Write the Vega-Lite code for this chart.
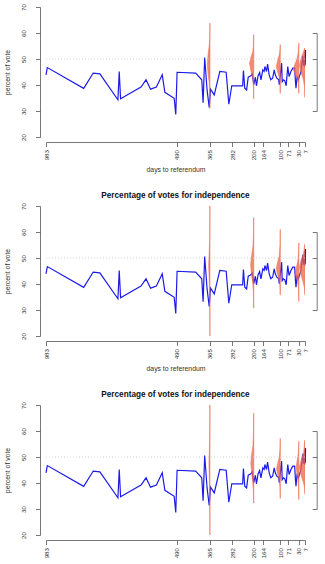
{
 "$schema": "https://vega.github.io/schema/vega-lite/v6.json",
 "padding": {"left": 4, "top": 3, "right": 2, "bottom": 0},
 "spacing": 17,
 "config": {
  "view": {"stroke": null},
  "font": "Liberation Sans",
  "axis": {"domainColor": "#555", "tickColor": "#555", "labelColor": "#333", "titleColor": "#333", "grid": false, "labelFont": "Liberation Sans", "titleFont": "Liberation Sans", "titleFontWeight": "normal", "labelFontSize": 6.2, "titleFontSize": 6.85, "tickSize": 4.5, "domainWidth": 0.8, "tickWidth": 0.8, "labelOverlap": false, "labelFlush": false, "tickCount": 50},
  "title": {"fontSize": 8.2, "font": "Liberation Sans", "fontWeight": "bold", "color": "#111", "offset": 2}
 },
 "datasets": {
  "ref": [{"level": 50}],
  "polls": [
   {"day": 983, "pct": 43.9}, {"day": 978, "pct": 46.7}, {"day": 841, "pct": 38.7}, {"day": 805, "pct": 44.6}, {"day": 780, "pct": 44.3},
   {"day": 712, "pct": 34.3}, {"day": 707, "pct": 45.2}, {"day": 702, "pct": 34.7}, {"day": 625, "pct": 39.2}, {"day": 606, "pct": 42.0},
   {"day": 589, "pct": 38.4}, {"day": 567, "pct": 39.2}, {"day": 545, "pct": 43.9}, {"day": 535, "pct": 37.2}, {"day": 500, "pct": 34.9},
   {"day": 494, "pct": 28.7}, {"day": 489, "pct": 44.9}, {"day": 419, "pct": 44.6}, {"day": 396, "pct": 42.0}, {"day": 391, "pct": 33.2},
   {"day": 385, "pct": 50.6}, {"day": 376, "pct": 38.1}, {"day": 368, "pct": 31.4}, {"day": 363, "pct": 38.4}, {"day": 349, "pct": 36.2},
   {"day": 328, "pct": 45.2}, {"day": 304, "pct": 44.9}, {"day": 294, "pct": 32.6}, {"day": 283, "pct": 39.7}, {"day": 242, "pct": 39.7},
   {"day": 239, "pct": 45.6}, {"day": 234, "pct": 38.8}, {"day": 227, "pct": 38.1}, {"day": 221, "pct": 43.0}, {"day": 211, "pct": 43.5},
   {"day": 206, "pct": 44.3}, {"day": 200, "pct": 40.1}, {"day": 194, "pct": 43.0}, {"day": 190, "pct": 39.7}, {"day": 184, "pct": 43.5},
   {"day": 178, "pct": 44.8}, {"day": 173, "pct": 42.0}, {"day": 166, "pct": 45.8}, {"day": 161, "pct": 45.2}, {"day": 158, "pct": 47.1},
   {"day": 152, "pct": 45.2}, {"day": 148, "pct": 48.0}, {"day": 142, "pct": 43.9}, {"day": 136, "pct": 42.0}, {"day": 129, "pct": 42.6},
   {"day": 123, "pct": 45.8}, {"day": 119, "pct": 43.9}, {"day": 113, "pct": 42.6}, {"day": 106, "pct": 42.0}, {"day": 104, "pct": 40.1},
   {"day": 100, "pct": 43.9}, {"day": 95, "pct": 48.4}, {"day": 93, "pct": 41.3}, {"day": 88, "pct": 42.0}, {"day": 83, "pct": 41.6},
   {"day": 78, "pct": 39.7}, {"day": 72, "pct": 47.1}, {"day": 67, "pct": 43.3}, {"day": 60, "pct": 45.2}, {"day": 53, "pct": 46.5},
   {"day": 46, "pct": 46.5}, {"day": 43, "pct": 41.3}, {"day": 41, "pct": 38.8}, {"day": 37, "pct": 43.0}, {"day": 32, "pct": 42.0},
   {"day": 28, "pct": 43.3}, {"day": 22, "pct": 45.2}, {"day": 19, "pct": 48.4}, {"day": 15, "pct": 51.2}, {"day": 13, "pct": 47.4},
   {"day": 10, "pct": 49.7}, {"day": 8, "pct": 47.1}, {"day": 7, "pct": 52.9}, {"day": 6, "pct": 47.8}, {"day": 5, "pct": 53.5}
  ],
  "dens": [
   {"panel": 1, "day": 365, "pct": 31.0, "edge": 365.5}, {"panel": 1, "day": 365, "pct": 38, "edge": 366.5}, {"panel": 1, "day": 365, "pct": 41, "edge": 368}, {"panel": 1, "day": 365, "pct": 44, "edge": 372}, {"panel": 1, "day": 365, "pct": 48, "edge": 375}, {"panel": 1, "day": 365, "pct": 52, "edge": 372}, {"panel": 1, "day": 365, "pct": 55, "edge": 368}, {"panel": 1, "day": 365, "pct": 58, "edge": 366}, {"panel": 1, "day": 365, "pct": 63.8, "edge": 365.5},
   {"panel": 1, "day": 200, "pct": 34.7, "edge": 200.5}, {"panel": 1, "day": 200, "pct": 40, "edge": 201.5}, {"panel": 1, "day": 200, "pct": 42.7, "edge": 204}, {"panel": 1, "day": 200, "pct": 45.5, "edge": 211}, {"panel": 1, "day": 200, "pct": 48.5, "edge": 216}, {"panel": 1, "day": 200, "pct": 50.5, "edge": 211}, {"panel": 1, "day": 200, "pct": 52.7, "edge": 204}, {"panel": 1, "day": 200, "pct": 55, "edge": 201.5}, {"panel": 1, "day": 200, "pct": 59.3, "edge": 200.5},
   {"panel": 1, "day": 100, "pct": 36.8, "edge": 100.5}, {"panel": 1, "day": 100, "pct": 41, "edge": 101.5}, {"panel": 1, "day": 100, "pct": 43, "edge": 104}, {"panel": 1, "day": 100, "pct": 45, "edge": 110}, {"panel": 1, "day": 100, "pct": 47, "edge": 115}, {"panel": 1, "day": 100, "pct": 49.5, "edge": 110}, {"panel": 1, "day": 100, "pct": 51.5, "edge": 104}, {"panel": 1, "day": 100, "pct": 53.5, "edge": 101.5}, {"panel": 1, "day": 100, "pct": 55.5, "edge": 100.5},
   {"panel": 1, "day": 30, "pct": 36.8, "edge": 30.5}, {"panel": 1, "day": 30, "pct": 40.5, "edge": 32}, {"panel": 1, "day": 30, "pct": 42.7, "edge": 36}, {"panel": 1, "day": 30, "pct": 44.5, "edge": 45}, {"panel": 1, "day": 30, "pct": 46, "edge": 51}, {"panel": 1, "day": 30, "pct": 48, "edge": 45}, {"panel": 1, "day": 30, "pct": 50.4, "edge": 36}, {"panel": 1, "day": 30, "pct": 53, "edge": 32}, {"panel": 1, "day": 30, "pct": 56.1, "edge": 30.5},
   {"panel": 1, "day": 7, "pct": 35.3, "edge": 7.5}, {"panel": 1, "day": 7, "pct": 39.5, "edge": 9}, {"panel": 1, "day": 7, "pct": 42, "edge": 13}, {"panel": 1, "day": 7, "pct": 44.5, "edge": 21}, {"panel": 1, "day": 7, "pct": 47.5, "edge": 28}, {"panel": 1, "day": 7, "pct": 50.5, "edge": 21}, {"panel": 1, "day": 7, "pct": 53, "edge": 12}, {"panel": 1, "day": 7, "pct": 54.2, "edge": 8},

   {"panel": 2, "day": 365, "pct": 15, "edge": 365.5}, {"panel": 2, "day": 365, "pct": 35, "edge": 366}, {"panel": 2, "day": 365, "pct": 42, "edge": 368}, {"panel": 2, "day": 365, "pct": 47, "edge": 370}, {"panel": 2, "day": 365, "pct": 52, "edge": 368}, {"panel": 2, "day": 365, "pct": 58, "edge": 366}, {"panel": 2, "day": 365, "pct": 75, "edge": 365.5},
   {"panel": 2, "day": 200, "pct": 30.7, "edge": 200.5}, {"panel": 2, "day": 200, "pct": 37, "edge": 201.5}, {"panel": 2, "day": 200, "pct": 40.4, "edge": 204}, {"panel": 2, "day": 200, "pct": 44, "edge": 209}, {"panel": 2, "day": 200, "pct": 47.5, "edge": 212}, {"panel": 2, "day": 200, "pct": 51, "edge": 208}, {"panel": 2, "day": 200, "pct": 54.6, "edge": 203}, {"panel": 2, "day": 200, "pct": 59, "edge": 201}, {"panel": 2, "day": 200, "pct": 65.5, "edge": 200.5},
   {"panel": 2, "day": 100, "pct": 35.8, "edge": 100.5}, {"panel": 2, "day": 100, "pct": 39.5, "edge": 101.5}, {"panel": 2, "day": 100, "pct": 41.5, "edge": 104}, {"panel": 2, "day": 100, "pct": 44, "edge": 111}, {"panel": 2, "day": 100, "pct": 46, "edge": 115}, {"panel": 2, "day": 100, "pct": 48.5, "edge": 110}, {"panel": 2, "day": 100, "pct": 50.8, "edge": 104}, {"panel": 2, "day": 100, "pct": 55, "edge": 101.2}, {"panel": 2, "day": 100, "pct": 61, "edge": 100.5},
   {"panel": 2, "day": 30, "pct": 33.3, "edge": 30.5}, {"panel": 2, "day": 30, "pct": 38, "edge": 31.5}, {"panel": 2, "day": 30, "pct": 40.4, "edge": 34}, {"panel": 2, "day": 30, "pct": 42.5, "edge": 39}, {"panel": 2, "day": 30, "pct": 44.5, "edge": 43}, {"panel": 2, "day": 30, "pct": 46.5, "edge": 39}, {"panel": 2, "day": 30, "pct": 48.8, "edge": 34}, {"panel": 2, "day": 30, "pct": 52, "edge": 31.5}, {"panel": 2, "day": 30, "pct": 55.8, "edge": 30.5},
   {"panel": 2, "day": 7, "pct": 35.8, "edge": 7.5}, {"panel": 2, "day": 7, "pct": 38.5, "edge": 9}, {"panel": 2, "day": 7, "pct": 40.4, "edge": 13}, {"panel": 2, "day": 7, "pct": 43.5, "edge": 22}, {"panel": 2, "day": 7, "pct": 46.5, "edge": 28}, {"panel": 2, "day": 7, "pct": 49.5, "edge": 21}, {"panel": 2, "day": 7, "pct": 52, "edge": 12}, {"panel": 2, "day": 7, "pct": 55.2, "edge": 8},

   {"panel": 3, "day": 365, "pct": 15, "edge": 365.5}, {"panel": 3, "day": 365, "pct": 35, "edge": 366}, {"panel": 3, "day": 365, "pct": 42, "edge": 367.5}, {"panel": 3, "day": 365, "pct": 47, "edge": 369}, {"panel": 3, "day": 365, "pct": 52, "edge": 367.5}, {"panel": 3, "day": 365, "pct": 58, "edge": 366}, {"panel": 3, "day": 365, "pct": 75, "edge": 365.5},
   {"panel": 3, "day": 200, "pct": 32.3, "edge": 200.5}, {"panel": 3, "day": 200, "pct": 37, "edge": 201.5}, {"panel": 3, "day": 200, "pct": 40.2, "edge": 204}, {"panel": 3, "day": 200, "pct": 44, "edge": 208}, {"panel": 3, "day": 200, "pct": 47.5, "edge": 211}, {"panel": 3, "day": 200, "pct": 51, "edge": 208}, {"panel": 3, "day": 200, "pct": 54.5, "edge": 203}, {"panel": 3, "day": 200, "pct": 60, "edge": 201}, {"panel": 3, "day": 200, "pct": 66.8, "edge": 200.5},
   {"panel": 3, "day": 100, "pct": 34.1, "edge": 100.5}, {"panel": 3, "day": 100, "pct": 38.5, "edge": 101.5}, {"panel": 3, "day": 100, "pct": 41.3, "edge": 104}, {"panel": 3, "day": 100, "pct": 43.5, "edge": 110}, {"panel": 3, "day": 100, "pct": 45.5, "edge": 114}, {"panel": 3, "day": 100, "pct": 47.5, "edge": 110}, {"panel": 3, "day": 100, "pct": 49.8, "edge": 104}, {"panel": 3, "day": 100, "pct": 53, "edge": 101.5}, {"panel": 3, "day": 100, "pct": 57.1, "edge": 100.5},
   {"panel": 3, "day": 30, "pct": 33.6, "edge": 30.5}, {"panel": 3, "day": 30, "pct": 38.5, "edge": 31.5}, {"panel": 3, "day": 30, "pct": 41.3, "edge": 33.5}, {"panel": 3, "day": 30, "pct": 43.5, "edge": 37}, {"panel": 3, "day": 30, "pct": 46, "edge": 40}, {"panel": 3, "day": 30, "pct": 48.5, "edge": 37}, {"panel": 3, "day": 30, "pct": 50.6, "edge": 33}, {"panel": 3, "day": 30, "pct": 53, "edge": 31.2}, {"panel": 3, "day": 30, "pct": 56, "edge": 30.5},
   {"panel": 3, "day": 7, "pct": 35.8, "edge": 7.5}, {"panel": 3, "day": 7, "pct": 38.5, "edge": 9}, {"panel": 3, "day": 7, "pct": 40.2, "edge": 13}, {"panel": 3, "day": 7, "pct": 43, "edge": 22}, {"panel": 3, "day": 7, "pct": 46, "edge": 28}, {"panel": 3, "day": 7, "pct": 49, "edge": 21}, {"panel": 3, "day": 7, "pct": 51.8, "edge": 12}, {"panel": 3, "day": 7, "pct": 56.4, "edge": 8}
  ]
 },
 "vconcat": [
  {
   "width": 259, "height": 130,
   "layer": [
    {
     "layer": [
      {
       "data": {"name": "polls"},
       "mark": {"type": "line", "color": "#1c1ce8", "strokeWidth": 1.2},
       "encoding": {
        "x": {"field": "day", "type": "quantitative", "scale": {"domain": [983, 7], "nice": false, "zero": false}, "axis": {"values": [983, 490, 365, 282, 200, 164, 100, 71, 30, 7], "tickCount": 50, "labelAngle": -90, "offset": 5, "labelPadding": 3, "title": "days to referendum", "titlePadding": 7, "labelOverlap": false}},
        "y": {"field": "pct", "type": "quantitative", "scale": {"domain": [20, 70], "nice": false, "zero": false}, "axis": {"values": [20, 30, 40, 50, 60, 70], "tickCount": 50, "labelAngle": -90, "offset": 6, "labelPadding": 9, "title": "percent of vote", "titlePadding": 10, "labelOverlap": false}}
       }
      },
      {
       "data": {"name": "dens"},
       "transform": [{"filter": "datum.panel == 1"}],
       "mark": {"type": "area", "orient": "horizontal", "clip": true, "fill": "#ee6448", "fillOpacity": 0.75, "stroke": "#ee6448", "strokeWidth": 1, "strokeOpacity": 0.5},
       "encoding": {
        "y": {"field": "pct", "type": "quantitative", "axis": {"labelOverlap": false, "tickCount": 50}},
        "x": {"field": "edge", "type": "quantitative", "stack": null, "axis": {"labelOverlap": false, "tickCount": 50}},
        "x2": {"field": "day"},
        "detail": {"field": "day", "type": "nominal"}
       }
      }
     ]
    },
    {
     "data": {"name": "ref"},
     "mark": {"type": "rule", "color": "#cccccc", "strokeDash": [1, 2], "strokeWidth": 0.8},
     "encoding": {"y": {"field": "level", "type": "quantitative", "scale": {"domain": [30, 60], "range": [104, 26], "nice": false, "zero": false}, "axis": {"orient": "right", "values": [30, 40, 50, 60], "tickCount": 50, "labels": false, "title": null, "offset": 11.7, "tickSize": -4.5}}}
    }
   ],
   "resolve": {"scale": {"y": "independent"}}
  },
  {
   "width": 259, "height": 130,
   "title": "Percentage of votes for independence",
   "layer": [
    {
     "layer": [
      {
       "data": {"name": "polls"},
       "mark": {"type": "line", "color": "#1c1ce8", "strokeWidth": 1.2},
       "encoding": {
        "x": {"field": "day", "type": "quantitative", "scale": {"domain": [983, 7], "nice": false, "zero": false}, "axis": {"values": [983, 490, 365, 282, 200, 164, 100, 71, 30, 7], "tickCount": 50, "labelAngle": -90, "offset": 5, "labelPadding": 3, "title": "days to referendum", "titlePadding": 7, "labelOverlap": false}},
        "y": {"field": "pct", "type": "quantitative", "scale": {"domain": [20, 70], "nice": false, "zero": false}, "axis": {"values": [20, 30, 40, 50, 60, 70], "tickCount": 50, "labelAngle": -90, "offset": 6, "labelPadding": 9, "title": "percent of vote", "titlePadding": 10, "labelOverlap": false}}
       }
      },
      {
       "data": {"name": "dens"},
       "transform": [{"filter": "datum.panel == 2"}],
       "mark": {"type": "area", "orient": "horizontal", "clip": true, "fill": "#ee6448", "fillOpacity": 0.75, "stroke": "#ee6448", "strokeWidth": 1, "strokeOpacity": 0.5},
       "encoding": {
        "y": {"field": "pct", "type": "quantitative", "axis": {"labelOverlap": false, "tickCount": 50}},
        "x": {"field": "edge", "type": "quantitative", "stack": null, "axis": {"labelOverlap": false, "tickCount": 50}},
        "x2": {"field": "day"},
        "detail": {"field": "day", "type": "nominal"}
       }
      }
     ]
    },
    {
     "data": {"name": "ref"},
     "mark": {"type": "rule", "color": "#cccccc", "strokeDash": [1, 2], "strokeWidth": 0.8},
     "encoding": {"y": {"field": "level", "type": "quantitative", "scale": {"domain": [30, 60], "range": [104, 26], "nice": false, "zero": false}, "axis": {"orient": "right", "values": [30, 40, 50, 60], "tickCount": 50, "labels": false, "title": null, "offset": 11.7, "tickSize": -4.5}}}
    }
   ],
   "resolve": {"scale": {"y": "independent"}}
  },
  {
   "width": 259, "height": 130,
   "title": "Percentage of votes for independence",
   "layer": [
    {
     "layer": [
      {
       "data": {"name": "polls"},
       "mark": {"type": "line", "color": "#1c1ce8", "strokeWidth": 1.2},
       "encoding": {
        "x": {"field": "day", "type": "quantitative", "scale": {"domain": [983, 7], "nice": false, "zero": false}, "axis": {"values": [983, 490, 365, 282, 200, 164, 100, 71, 30, 7], "tickCount": 50, "labelAngle": -90, "offset": 5, "labelPadding": 3, "title": null, "labelOverlap": false}},
        "y": {"field": "pct", "type": "quantitative", "scale": {"domain": [20, 70], "nice": false, "zero": false}, "axis": {"values": [20, 30, 40, 50, 60, 70], "tickCount": 50, "labelAngle": -90, "offset": 6, "labelPadding": 9, "title": "percent of vote", "titlePadding": 10, "labelOverlap": false}}
       }
      },
      {
       "data": {"name": "dens"},
       "transform": [{"filter": "datum.panel == 3"}],
       "mark": {"type": "area", "orient": "horizontal", "clip": true, "fill": "#ee6448", "fillOpacity": 0.75, "stroke": "#ee6448", "strokeWidth": 1, "strokeOpacity": 0.5},
       "encoding": {
        "y": {"field": "pct", "type": "quantitative", "axis": {"labelOverlap": false, "tickCount": 50}},
        "x": {"field": "edge", "type": "quantitative", "stack": null, "axis": {"labelOverlap": false, "tickCount": 50}},
        "x2": {"field": "day"},
        "detail": {"field": "day", "type": "nominal"}
       }
      }
     ]
    },
    {
     "data": {"name": "ref"},
     "mark": {"type": "rule", "color": "#cccccc", "strokeDash": [1, 2], "strokeWidth": 0.8},
     "encoding": {"y": {"field": "level", "type": "quantitative", "scale": {"domain": [30, 60], "range": [104, 26], "nice": false, "zero": false}, "axis": {"orient": "right", "values": [30, 40, 50, 60], "tickCount": 50, "labels": false, "title": null, "offset": 11.7, "tickSize": -4.5}}}
    }
   ],
   "resolve": {"scale": {"y": "independent"}}
  }
 ]
}
